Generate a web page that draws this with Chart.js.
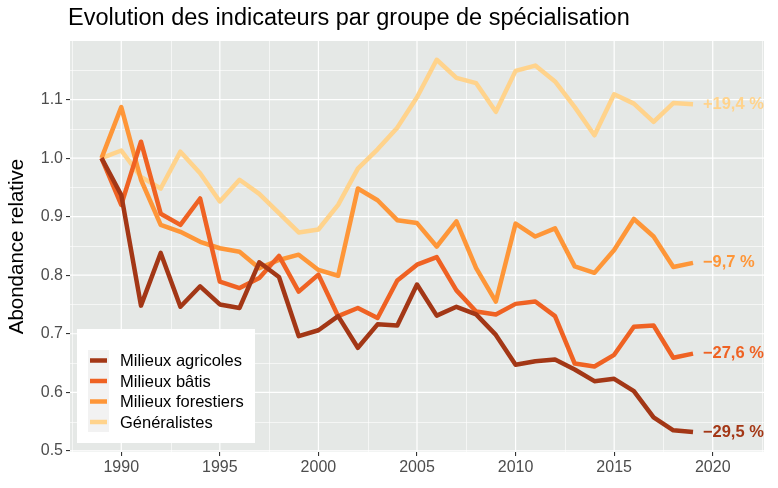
<!DOCTYPE html>
<html>
<head>
<meta charset="utf-8">
<script src="https://cdn.jsdelivr.net/npm/chart.js@4.4.1/dist/chart.umd.min.js"></script>
<style>
  body { margin: 0; background: #fff; }
</style>
</head>
<body>
<canvas id="myChart" width="778" height="488"></canvas>
<script>
// valeurs
const years = [1989, 1990, 1991, 1992, 1993, 1994, 1995, 1996, 1997, 1998, 1999, 2000, 2001, 2002, 2003, 2004,
  2005, 2006, 2007, 2008, 2009, 2010, 2011, 2012, 2013, 2014, 2015, 2016, 2017, 2018, 2019];
const agricoles = [1.0, 0.937, 0.748, 0.838, 0.746, 0.781, 0.750, 0.744, 0.822, 0.797, 0.696, 0.706, 0.730, 0.676, 0.716, 0.714,
  0.784, 0.731, 0.746, 0.733, 0.698, 0.647, 0.653, 0.656, 0.639, 0.619, 0.623, 0.602, 0.557, 0.535, 0.532];
const batis = [1.0, 0.920, 1.028, 0.905, 0.886, 0.931, 0.789, 0.778, 0.795, 0.833, 0.772, 0.801, 0.730, 0.744, 0.727, 0.791,
  0.818, 0.831, 0.774, 0.738, 0.733, 0.751, 0.755, 0.730, 0.649, 0.644, 0.664, 0.712, 0.714, 0.659, 0.666];
const forestiers = [1.0, 1.087, 0.963, 0.886, 0.874, 0.857, 0.846, 0.840, 0.812, 0.826, 0.835, 0.809, 0.799, 0.948, 0.928, 0.894,
  0.889, 0.849, 0.892, 0.812, 0.755, 0.888, 0.866, 0.880, 0.815, 0.804, 0.843, 0.896, 0.866, 0.814, 0.821];
const generalistes = [1.0, 1.013, 0.968, 0.948, 1.011, 0.974, 0.926, 0.963, 0.939, 0.906, 0.873, 0.878, 0.920, 0.982, 1.015, 1.052,
  1.104, 1.168, 1.137, 1.128, 1.079, 1.149, 1.158, 1.131, 1.087, 1.039, 1.109, 1.093, 1.062, 1.094, 1.092];

const groupes = ['Milieux agricoles', 'Milieux bâtis', 'Milieux forestiers', 'Généralistes'];
const evolutions = ['\u221229,5 %', '\u221227,6 %', '\u22129,7 %', '+19,4 %'];
const couleurs = ['#A33716', '#EF6223', '#FE9638', '#FFD38C'];

const xTicks = [1990, 1995, 2000, 2005, 2010, 2015, 2020];
const yTicks = [0.5, 0.6, 0.7, 0.8, 0.9, 1.0, 1.1];

const series = [agricoles, batis, forestiers, generalistes];

function pts(vals) {
  return vals.map((v, i) => ({ x: years[i], y: v }));
}

// fond gris + grille façon ggplot
const panelPlugin = {
  id: 'panel',
  beforeDatasetsDraw(chart) {
    const { ctx, chartArea: a, scales } = chart;
    ctx.save();
    ctx.fillStyle = '#E5E8E6';
    ctx.fillRect(a.left, a.top, a.right - a.left, a.bottom - a.top);
    ctx.strokeStyle = '#fff';
    // mineures
    ctx.lineWidth = 0.6;
    for (let v = 0.55; v < 1.2; v += 0.1) {
      const y = Math.round(scales.y.getPixelForValue(v)) + 0.5;
      ctx.beginPath(); ctx.moveTo(a.left, y); ctx.lineTo(a.right, y); ctx.stroke();
    }
    for (let v = 1987.5; v < 2023; v += 5) {
      const x = Math.round(scales.x.getPixelForValue(v)) + 0.5;
      ctx.beginPath(); ctx.moveTo(x, a.top); ctx.lineTo(x, a.bottom); ctx.stroke();
    }
    // majeures
    ctx.lineWidth = 1.2;
    yTicks.forEach(v => {
      const y = scales.y.getPixelForValue(v);
      ctx.beginPath(); ctx.moveTo(a.left, y); ctx.lineTo(a.right, y); ctx.stroke();
    });
    xTicks.forEach(v => {
      const x = scales.x.getPixelForValue(v);
      ctx.beginPath(); ctx.moveTo(x, a.top); ctx.lineTo(x, a.bottom); ctx.stroke();
    });
    ctx.restore();
  },
  afterDatasetsDraw(chart) {
    const { ctx, scales } = chart;
    ctx.save();
    // étiquettes en bout de courbe
    ctx.font = 'bold 16.5px "Liberation Sans", Arial, sans-serif';
    ctx.textBaseline = 'middle';
    ctx.textAlign = 'left';
    series.forEach((s, i) => {
      ctx.fillStyle = couleurs[i];
      ctx.fillText(evolutions[i], scales.x.getPixelForValue(2019.5), scales.y.getPixelForValue(s[s.length - 1]));
    });
    // légende
    ctx.fillStyle = '#fff';
    ctx.fillRect(77, 329, 178, 114);
    ctx.fillStyle = '#F2F2F2';
    ctx.fillRect(88, 350, 21, 82);
    ctx.font = '16.5px "Liberation Sans", Arial, sans-serif';
    groupes.forEach((g, i) => {
      const y = 360.5 + i * 20.5;
      ctx.strokeStyle = couleurs[i];
      ctx.lineWidth = 4.5;
      ctx.beginPath(); ctx.moveTo(90, y); ctx.lineTo(107, y); ctx.stroke();
      ctx.fillStyle = '#000';
      ctx.fillText(g, 120, y + 1);
    });
    ctx.restore();
  },
  afterDraw(chart) {
    const ctx = chart.ctx;
    ctx.save();
    ctx.fillStyle = '#000';
    ctx.font = '23.5px "Liberation Sans", Arial, sans-serif';
    ctx.textBaseline = 'alphabetic';
    ctx.fillText('Evolution des indicateurs par groupe de spécialisation', 68, 25);
    ctx.restore();
  }
};

const myChart = document.getElementById('myChart');
const chart = new Chart(myChart, {
  type: 'line',
  data: {
    datasets: groupes.map((g, i) => ({
      label: g,
      data: pts(series[i]),
      borderColor: couleurs[i],
      backgroundColor: couleurs[i],
      borderWidth: 4.5,
      borderJoinStyle: 'round',
      pointRadius: 0,
      tension: 0,
      fill: false
    }))
  },
  options: {
    responsive: false,
    animation: false,
    devicePixelRatio: 1,
    layout: { padding: { top: 41, right: 14, left: 0, bottom: 0 } },
    plugins: { legend: { display: false }, tooltip: { enabled: false } },
    scales: {
      x: {
        type: 'linear',
        min: 1987.4,
        max: 2022.6,
        afterBuildTicks: s => { s.ticks = xTicks.map(v => ({ value: v })); },
        afterFit: s => { s.height = 36; },
        border: { display: false },
        grid: { drawOnChartArea: false, tickLength: 4, color: '#333', lineWidth: 1.1 },
        ticks: {
          padding: 2,
          maxRotation: 0,
          color: '#4D4D4D',
          font: { family: '"Liberation Sans", Arial, sans-serif', size: 16 },
          callback: v => String(v)
        }
      },
      y: {
        min: 0.498,
        max: 1.2,
        afterBuildTicks: s => { s.ticks = yTicks.map(v => ({ value: v })); },
        afterFit: s => { s.width = 70; },
        border: { display: false },
        grid: { drawOnChartArea: false, tickLength: 4, color: '#333', lineWidth: 1.1 },
        ticks: {
          padding: 3,
          color: '#4D4D4D',
          font: { family: '"Liberation Sans", Arial, sans-serif', size: 16 },
          callback: v => v.toFixed(1)
        },
        title: {
          display: true,
          text: 'Abondance relative',
          color: '#000',
          padding: { top: 5, bottom: 0 },
          font: { family: '"Liberation Sans", Arial, sans-serif', size: 20.5 }
        }
      }
    }
  },
  plugins: [panelPlugin]
});
</script>
</body>
</html>
